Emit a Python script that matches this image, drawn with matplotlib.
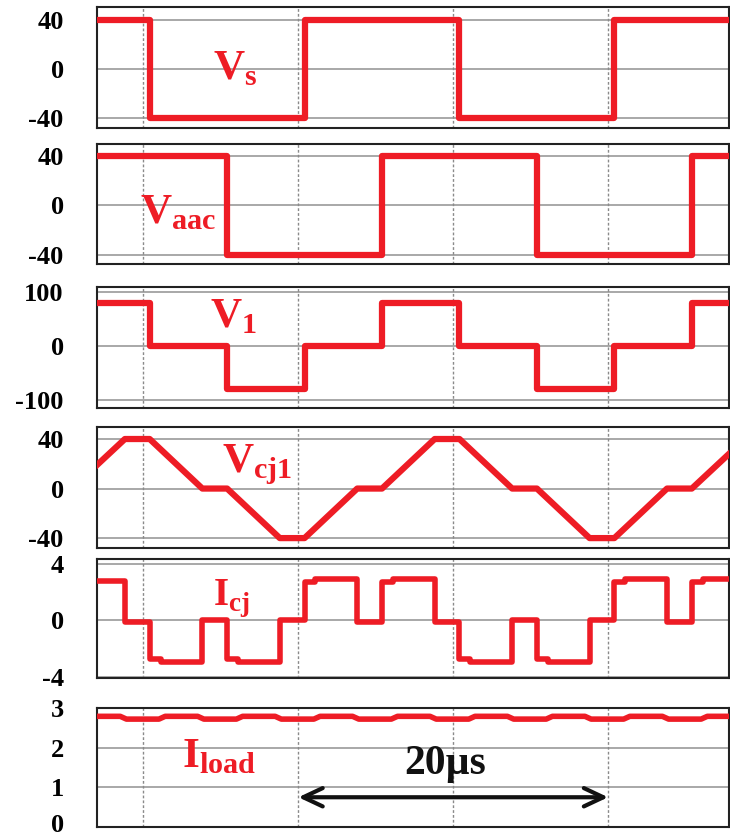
import matplotlib
matplotlib.use('Agg')
import matplotlib.pyplot as plt
import matplotlib.transforms as mtransforms

plt.rcParams['font.family'] = 'Liberation Serif'
plt.rcParams['font.weight'] = 'bold'
plt.rcParams['mathtext.fontset'] = 'custom'
plt.rcParams['mathtext.rm'] = 'Liberation Serif:bold'
plt.rcParams['mathtext.bf'] = 'Liberation Serif:bold'

RED = '#ee1c25'

#%% waveforms (time in us)
vs_t = [0, 3.4, 13.4, 23.4, 33.4, 40.8]
vs_v = [40, -40, 40, -40, 40, 40]

vaac_t = [0, 8.4, 18.4, 28.4, 38.4, 40.8]
vaac_v = [40, -40, 40, -40, 40, 40]

v1_t = [0, 3.4, 8.4, 13.4, 18.4, 23.4, 28.4, 33.4, 38.4, 40.8]
v1_v = [80, 0, -80, 0, 80, 0, -80, 0, 80, 80]

vcj_t = [0, 1.8, 3.4, 6.8, 8.4, 11.8, 13.4, 16.8, 18.4, 21.8, 23.4, 26.8,
         28.4, 31.8, 33.4, 36.8, 38.4, 40.8]
vcj_v = [19, 40, 40, 0, 0, -40, -40, 0, 0, 40, 40, 0, 0, -40, -40, 0, 0, 28]

icj_t = [0, 1.8, 3.4, 4.1, 6.8, 8.4, 9.1, 11.8, 13.4, 14.1, 16.8, 18.4, 19.1,
         21.8, 23.4, 24.1, 26.8, 28.4, 29.1, 31.8, 33.4, 34.1, 36.8, 38.4,
         39.1, 40.8]
icj_v = [2.8, -0.1, -2.75, -2.95, 0, -2.75, -2.95, 0, 2.7, 2.9, -0.1, 2.7, 2.9,
         -0.1, -2.75, -2.95, 0, -2.75, -2.95, 0, 2.7, 2.9, -0.1, 2.7, 2.9, 2.9]

iload_t = [0, 1.5, 1.9, 4.0, 4.4, 6.5, 6.9, 9.0, 9.4, 11.5, 11.9, 14.0, 14.4,
           16.5, 16.9, 19.0, 19.4, 21.5, 21.9, 24.0, 24.4, 26.5, 26.9, 29.0,
           29.4, 31.5, 31.9, 34.0, 34.4, 36.5, 36.9, 39.0, 39.4, 40.8]
iload_v = [2.79, 2.79, 2.72, 2.72] * 8 + [2.79, 2.79]

grid_t = [3, 13, 23, 33]

#%% layout: panel top/bottom in pixels
W, H = 730, 839
x0, x1 = 97, 729
panels_px = [(7, 128), (144, 264), (287, 408), (427, 548), (559, 678), (708, 827)]

ylims = [(-48.2, 50.6), (-47.3, 49.7), (-115, 109), (-48, 49.7), (-4.07, 4.35), (0, 3)]
yticks = [[-40, 0, 40], [-40, 0, 40], [-100, 0, 100], [-40, 0, 40], [-4, 0, 4], [0, 1, 2, 3]]

fig = plt.figure(figsize=(W / 100, H / 100), dpi=100)
axes = []
for (top, bot), yl, yt in zip(panels_px, ylims, yticks):
    ax = fig.add_axes([x0 / W, 1 - bot / H, (x1 - x0) / W, (bot - top) / H])
    ax.set_xlim(0, 40.8)
    ax.set_ylim(*yl)
    ax.set_yticks(yt)
    ax.set_yticklabels([str(v) for v in yt], fontsize=19, fontweight='bold')
    ax.set_xticks([])
    ax.tick_params(axis='y', length=0, pad=24)
    for y in yt:
        ax.axhline(y, color='#9a9a9a', lw=1.2, zorder=1)
    for t in grid_t:
        ax.axvline(t, color='#8a8a8a', lw=1.0, ls=(0, (2, 1.5)), zorder=1)
    for s in ax.spines.values():
        s.set_linewidth(1.5)
        s.set_color('#222222')
    axes.append(ax)

# nudge the bottom "0" up a little so it stays inside the figure
lbl0 = axes[5].get_yticklabels()[0]
lbl0.set_transform(lbl0.get_transform() +
                   mtransforms.ScaledTranslation(0, 3 / 72, fig.dpi_scale_trans))

axes[0].step(vs_t, vs_v, where='post', color=RED, lw=4.5, zorder=3)
axes[1].step(vaac_t, vaac_v, where='post', color=RED, lw=4.5, zorder=3)
axes[2].step(v1_t, v1_v, where='post', color=RED, lw=4.5, zorder=3)
axes[3].plot(vcj_t, vcj_v, color=RED, lw=4.5, zorder=3)
axes[4].step(icj_t, icj_v, where='post', color=RED, lw=4, zorder=3)
axes[5].plot(iload_t, iload_v, color=RED, lw=4, zorder=3)

# signal names
lab = dict(color=RED, fontsize=31, ha='left', va='baseline', zorder=4)
axes[0].text(7.5, -8.2, r'$\mathrm{V}_{\mathrm{s}}$', **lab)
axes[1].text(2.8, -14.5, r'$\mathrm{V}_{\mathrm{aac}}$', **lab)
axes[2].text(7.3, 35, r'$\mathrm{V}_{\mathrm{1}}$', **lab)
axes[3].text(8.1, 13, r'$\mathrm{V}_{\mathrm{cj1}}$', **lab)
axes[4].text(7.5, 1.1, r'$\mathrm{I}_{\mathrm{cj}}$', color=RED, fontsize=28,
             ha='left', va='baseline', zorder=4)
axes[5].text(5.5, 1.52, r'$\mathrm{I}_{\mathrm{load}}$', **lab)

# one period marker
axes[5].annotate('', xy=(33, 0.75), xytext=(13, 0.75),
                 arrowprops=dict(arrowstyle='<->,head_length=0.7,head_width=0.33',
                                 color='#111111', lw=3, mutation_scale=20,
                                 shrinkA=0, shrinkB=0), zorder=4)
axes[5].text(22.5, 1.6, '20\u00b5s', fontsize=30, fontweight='bold',
             ha='center', va='center', color='#111111')

plt.savefig('out.png', dpi=100)
